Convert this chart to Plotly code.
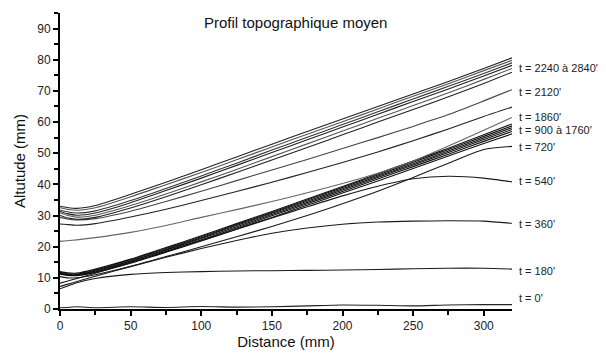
import plotly.graph_objects as go

distance = [0, 5, 12, 25, 50, 75, 100, 125, 150, 175, 200, 225, 250, 275, 300, 320]

t0 = [0.4, 0.5, 0.7, 0.4, 0.7, 0.5, 0.8, 0.6, 0.7, 1.0, 1.3, 1.2, 1.0, 1.3, 1.4, 1.4]
t180 = [6.5, 7.3, 8.4, 9.8, 11.1, 11.7, 12.0, 12.2, 12.3, 12.4, 12.5, 12.7, 12.9, 13.1, 13.1, 12.8]
t360 = [7.2, 7.9, 8.8, 10.5, 13.6, 16.6, 19.4, 22.0, 24.3, 26.0, 27.2, 27.9, 28.2, 28.3, 28.2, 27.5]
t540 = [8.3, 8.9, 9.8, 11.5, 14.9, 18.4, 22.0, 25.6, 29.2, 32.8, 36.3, 39.4, 41.8, 42.6, 42.0, 40.8]
t720 = [10.4, 10.0, 10.0, 11.0, 13.7, 16.8, 20.0, 23.2, 26.5, 30.0, 33.8, 37.8, 42.2, 46.8, 51.2, 52.2]
t900 = [11.2, 10.8, 10.7, 11.7, 14.7, 18.2, 21.8, 25.6, 29.4, 33.3, 37.2, 41.1, 45.1, 49.1, 53.1, 56.2]
t1080 = [11.3, 10.9, 10.8, 11.9, 15.0, 18.5, 22.2, 26.0, 29.9, 33.8, 37.7, 41.7, 45.7, 49.7, 53.8, 57.0]
t1260 = [11.5, 11.0, 10.9, 12.1, 15.3, 18.9, 22.6, 26.4, 30.3, 34.2, 38.2, 42.2, 46.2, 50.2, 54.4, 57.6]
t1440 = [11.6, 11.1, 11.0, 12.3, 15.5, 19.1, 22.9, 26.8, 30.7, 34.6, 38.6, 42.6, 46.6, 50.7, 54.9, 58.2]
t1620 = [11.8, 11.3, 11.2, 12.5, 15.8, 19.4, 23.2, 27.1, 31.0, 35.0, 39.0, 43.0, 47.1, 51.2, 55.4, 58.8]
t1760 = [12.0, 11.6, 11.5, 12.8, 16.0, 19.7, 23.5, 27.4, 31.3, 35.3, 39.3, 43.4, 47.5, 51.6, 55.9, 59.4]
t1860 = [21.7, 21.9, 22.2, 22.9, 24.6, 26.8, 29.4, 31.9, 34.5, 37.3, 40.3, 43.6, 47.5, 52.3, 57.4, 61.5]
t1990 = [27.3, 27.1, 26.9, 27.4, 29.5, 32.0, 34.8, 37.7, 40.7, 43.8, 47.0, 50.4, 54.0, 57.8, 61.8, 64.8]
t2120 = [29.4, 28.9, 28.6, 29.0, 31.4, 34.5, 37.8, 41.2, 44.6, 48.0, 51.5, 55.0, 58.6, 62.4, 66.8, 70.4]
t2240 = [30.0, 29.3, 28.8, 29.4, 32.4, 36.0, 39.9, 43.8, 47.8, 51.8, 55.9, 60.0, 64.0, 68.1, 72.4, 76.0]
t2360 = [30.9, 30.1, 29.5, 30.1, 33.2, 36.9, 40.8, 44.8, 48.9, 53.0, 57.1, 61.2, 65.3, 69.4, 73.7, 77.2]
t2480 = [31.3, 30.6, 30.1, 30.8, 34.1, 38.0, 42.0, 46.1, 50.2, 54.3, 58.4, 62.5, 66.6, 70.6, 74.8, 78.2]
t2600 = [31.8, 31.2, 30.8, 31.5, 34.8, 38.7, 42.7, 46.8, 51.0, 55.1, 59.2, 63.3, 67.4, 71.5, 75.6, 79.0]
t2720 = [32.5, 32.0, 31.7, 32.5, 36.0, 39.9, 43.8, 47.9, 52.0, 56.1, 60.1, 64.2, 68.3, 72.3, 76.5, 79.8]
t2840 = [33.0, 32.6, 32.3, 33.2, 36.8, 40.7, 44.7, 48.8, 52.9, 57.0, 61.0, 65.0, 69.0, 73.0, 77.2, 80.6]

series = [
    ("t0", t0, "#222222"), ("t180", t180, "#1a1a1a"), ("t360", t360, "#1a1a1a"),
    ("t540", t540, "#1a1a1a"), ("t720", t720, "#1a1a1a"),
    ("t900", t900, "#111111"), ("t1080", t1080, "#111111"), ("t1260", t1260, "#111111"),
    ("t1440", t1440, "#111111"), ("t1620", t1620, "#111111"), ("t1760", t1760, "#111111"),
    ("t1860", t1860, "#666666"), ("t1990", t1990, "#222222"), ("t2120", t2120, "#444444"),
    ("t2240", t2240, "#222222"), ("t2360", t2360, "#555555"), ("t2480", t2480, "#222222"),
    ("t2600", t2600, "#333333"), ("t2720", t2720, "#555555"), ("t2840", t2840, "#222222"),
]

label_texts = ["t = 2240 à 2840'", "t = 2120'", "t = 1860'", "t = 900 à 1760'",
               "t = 720'", "t = 540'", "t = 360'", "t = 180'", "t = 0'"]
label_y = [77.2, 69.6, 61.6, 57.3, 52.0, 41.1, 27.3, 12.3, 3.6]

fig = go.Figure()
for name, vals, col in series:
    fig.add_trace(go.Scatter(x=distance, y=vals, mode="lines", name=name,
                             line=dict(color=col, width=1.1, shape="spline", smoothing=0.6),
                             showlegend=False, hoverinfo="skip"))

font_family = "Liberation Sans, Arial, sans-serif"
for txt, yv in zip(label_texts, label_y):
    fig.add_annotation(x=1.01, y=yv, xref="paper", yref="y", text=txt, showarrow=False,
                       xanchor="left", yanchor="middle",
                       font=dict(family=font_family, size=11, color="#222"))

fig.add_annotation(x=0.522, y=0.969, xref="paper", yref="paper",
                   text="Profil topographique moyen", showarrow=False,
                   xanchor="center", yanchor="middle",
                   font=dict(family=font_family, size=15, color="#111"))

axis_common = dict(showline=True, linecolor="black", linewidth=2, ticks="outside",
                   ticklen=5, tickwidth=1.5, tickcolor="black", showgrid=False,
                   zeroline=False, mirror=False, automargin=False,
                   tickfont=dict(family=font_family, size=12, color="#222"))

fig.update_xaxes(range=[0, 320], tickmode="linear", tick0=0, dtick=50,
                 minor=dict(dtick=25, ticks="outside", ticklen=4, tickwidth=1.5, tickcolor="black"),
                 title=dict(text="Distance (mm)", font=dict(family=font_family, size=15, color="#111"),
                            standoff=4),
                 **axis_common)
fig.update_yaxes(range=[0, 95], tickmode="linear", tick0=0, dtick=10,
                 minor=dict(dtick=5, ticks="outside", ticklen=4, tickwidth=1.5, tickcolor="black"),
                 title=dict(text="Altutude (mm)", font=dict(family=font_family, size=15, color="#111"),
                            standoff=8),
                 **axis_common)

fig.update_layout(width=606, height=356, margin=dict(l=52, r=102, t=5, b=55),
                  paper_bgcolor="white", plot_bgcolor="white")

fig.write_html("out.html")
